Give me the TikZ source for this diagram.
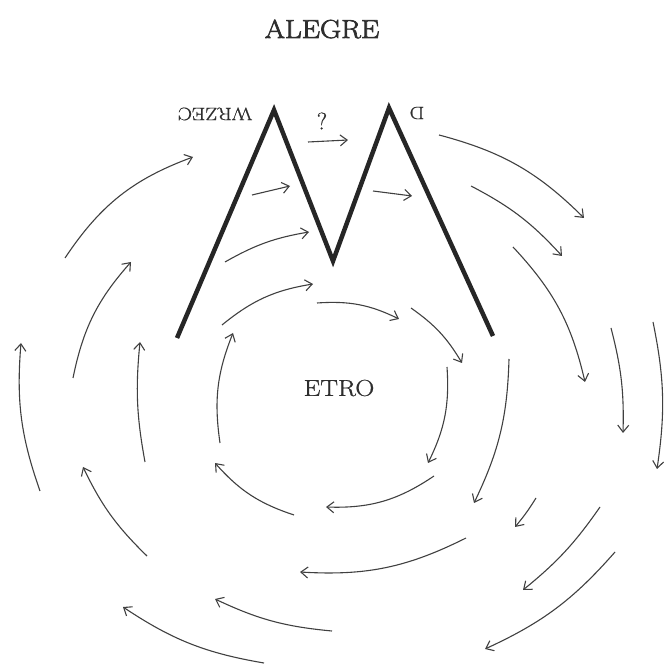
\documentclass[tikz,border=0pt]{standalone}
\usepackage{fontspec}
\setmainfont{Latin Modern Roman}
\newfontfamily\heavy[FakeBold=2.4]{Latin Modern Roman}
\newfontfamily\medium[FakeBold=0.8]{Latin Modern Roman}
\usetikzlibrary{arrows.meta}
\begin{document}
\begin{tikzpicture}[x=1pt,y=1pt,
  flow/.style={draw=black!75, line width=1.1pt, -{Straight Barb[length=7pt,width=11pt,line width=1.1pt]}},
  mline/.style={draw=black!85, line width=4.5pt, line join=miter},
  lbl/.style={text=black!82, inner sep=0pt}]
\useasboundingbox (0,0) rectangle (668,666);
% M shape
\draw[mline] (177,328) -- (274,556) -- (333,405) -- (389,558) -- (493,330);
% labels
\node[lbl, xscale=1.12] (alegre) at (322,637) {\heavy\fontsize{26}{30}\selectfont ALEGRE};
\node[lbl, xscale=1.15] (etro) at (339,278) {\medium\fontsize{23}{26}\selectfont ETRO};
\node[lbl, rotate=180, xscale=1.18] (wrzec) at (215,552) {\medium\fontsize{18}{20}\selectfont WRZEC};
\node[lbl, rotate=180, xscale=1.15] (d) at (417,553) {\medium\fontsize{18}{20}\selectfont D};
\node[lbl] (q) at (322,545) {\medium\fontsize{24}{26}\selectfont ?};
% arrows between the peaks
\draw[flow] (308,524) -- (348,526);
\draw[flow] (252,471) -- (290,480);
\draw[flow] (373,475) -- (412,470);
\draw[flow] (225,404) to[bend left=10] (309,434);
\draw[flow] (222,341) to[bend left=15] (313,382);
% inner ring
\draw[flow] (317,363) to[bend left=15] (399,347);
\draw[flow] (411,358) to[bend left=12] (462,303);
\draw[flow] (447,299) to[bend left=15] (428,203);
\draw[flow] (434,190) to[bend left=18] (326,159);
\draw[flow] (294,151) to[bend left=15] (215,203);
\draw[flow] (220,223) to[bend left=15] (233,333);
% middle ring
\draw[flow] (509,307) to[bend left=12] (474,163);
\draw[flow] (536,168) to[bend left=4] (515,139);
\draw[flow] (466,128) to[bend left=15] (300,94);
\draw[flow] (145,204) to[bend left=8] (140,324);
\draw[flow] (73,288) to[bend left=15] (131,404);
\draw[flow] (147,110) to[bend left=10] (83,199);
\draw[flow] (332,35) to[bend left=10] (215,67);
% outer ring
\draw[flow] (65,408) to[bend left=18] (193,509);
\draw[flow] (40,175) to[bend left=12] (21,323);
\draw[flow] (264,3) to[bend left=12] (123,59);
\draw[flow] (615,114) to[bend left=12] (485,17);
\draw[flow] (600,159) to[bend left=8] (523,76);
\draw[flow] (653,344) to[bend left=10] (657,197);
\draw[flow] (611,338) to[bend left=8] (623,233);
\draw[flow] (513,419) to[bend left=15] (585,284);
\draw[flow] (471,480) to[bend left=10] (562,410);
\draw[flow] (439,531) to[bend left=15] (584,448);
\end{tikzpicture}
\end{document}
